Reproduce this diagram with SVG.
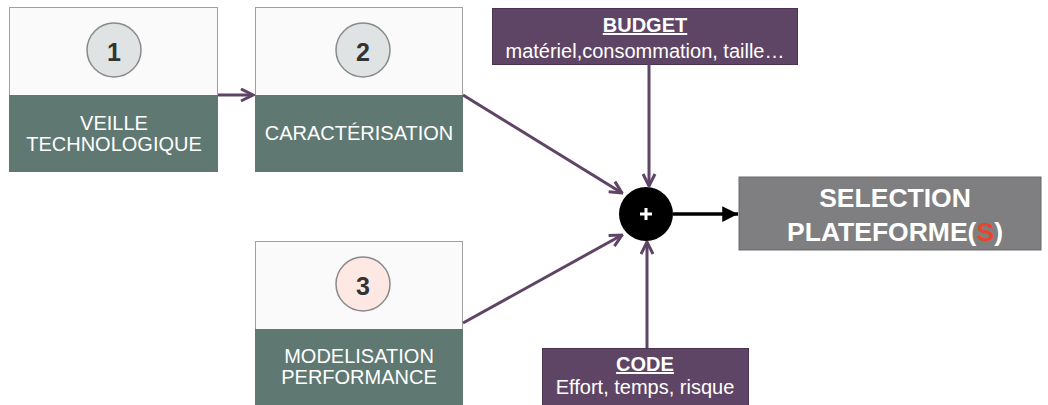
<svg xmlns="http://www.w3.org/2000/svg" width="1048" height="405" viewBox="0 0 1048 405">
<style>
.top{fill:#fafafa;stroke:#a0a0a0;stroke-width:1}
.bot{fill:#607872}
.num{fill:#dfe3e3;stroke:#8a8a8a;stroke-width:1.5}
.numt{font-family:"Liberation Sans",Arial,sans-serif;font-weight:bold;font-size:25px;fill:#333;text-anchor:middle}
.lab{font-family:"Liberation Sans",Arial,sans-serif;font-size:20px;fill:#fff;text-anchor:middle}
.pbox{fill:#5f4565;stroke:#4a3450;stroke-width:1}
.ptxt{font-family:"Liberation Sans",Arial,sans-serif;font-size:20px;fill:#fff;text-anchor:middle}
.sel{font-family:"Liberation Sans",Arial,sans-serif;font-weight:bold;font-size:26.5px;fill:#fff;text-anchor:middle}
.conn{stroke:#5f4565;stroke-width:3;fill:none}
</style>
<defs>
<marker id="pa" viewBox="0 0 10 10" refX="9" refY="5" markerWidth="5" markerHeight="5" orient="auto" markerUnits="strokeWidth">
<path d="M1,1 L9,5 L1,9" fill="none" stroke="#5f4565" stroke-width="2"/>
</marker>
<marker id="ba" viewBox="0 0 10 10" refX="10" refY="5" markerWidth="4.5" markerHeight="4.5" orient="auto" markerUnits="strokeWidth">
<path d="M0,0 L10,5 L0,10 z" fill="#000"/>
</marker>
</defs>
<g id="node1">
<rect class="top" x="9.5" y="7.5" width="208" height="88"/>
<rect class="bot" x="9" y="95" width="209" height="77"/>
<circle class="num" cx="114" cy="50" r="27"/>
<text class="numt" x="114" y="61">1</text>
<text class="lab" x="114" y="130">VEILLE</text>
<text class="lab" x="114" y="151">TECHNOLOGIQUE</text>
</g>
<g id="node2">
<rect class="top" x="255.5" y="7.5" width="207" height="88"/>
<rect class="bot" x="255" y="95" width="208" height="77"/>
<circle class="num" cx="363" cy="50" r="27"/>
<text class="numt" x="363" y="61">2</text>
<text class="lab" x="359" y="140">CARACTÉRISATION</text>
</g>
<g id="node3">
<rect class="top" x="255.5" y="241.5" width="207" height="88"/>
<rect class="bot" x="255" y="329" width="208" height="77"/>
<circle class="num" cx="363" cy="284" r="27" style="fill:#fde8e3"/>
<text class="numt" x="363" y="295">3</text>
<text class="lab" x="359" y="363">MODELISATION</text>
<text class="lab" x="359" y="384">PERFORMANCE</text>
</g>
<g id="budget">
<rect class="pbox" x="492.5" y="8.5" width="305" height="56"/>
<text class="ptxt" x="645" y="32" font-weight="bold" text-decoration="underline">BUDGET</text>
<text class="ptxt" x="645" y="58">matériel,consommation, taille…</text>
</g>
<g id="code">
<rect class="pbox" x="542.5" y="348.5" width="206" height="60"/>
<text class="ptxt" x="645" y="371" font-weight="bold" text-decoration="underline">CODE</text>
<text class="ptxt" x="645" y="394">Effort, temps, risque</text>
</g>
<g id="sum">
<circle cx="646" cy="214" r="27" fill="#000"/>
<path d="M640,214 H652 M646,208 V220" stroke="#fff" stroke-width="3"/>
</g>
<g id="selection">
<rect x="739" y="177" width="302" height="73" fill="#7f7f81" stroke="#6a6a6a" stroke-width="1"/>
<text class="sel" x="895" y="207">SELECTION</text>
<text class="sel" x="895" y="241">PLATEFORME(<tspan fill="#e8452c">S</tspan>)</text>
</g>
<g id="connectors">
<line class="conn" x1="218" y1="95" x2="253" y2="95" marker-end="url(#pa)"/>
<line class="conn" x1="463" y1="95" x2="622" y2="193" marker-end="url(#pa)"/>
<line class="conn" x1="463" y1="323" x2="622" y2="235" marker-end="url(#pa)"/>
<line class="conn" x1="649" y1="64" x2="649" y2="186" marker-end="url(#pa)"/>
<line class="conn" x1="647" y1="348" x2="647" y2="242" marker-end="url(#pa)"/>
<line x1="673" y1="214" x2="738" y2="214" stroke="#000" stroke-width="3.5" marker-end="url(#ba)"/>
</g>
</svg>
